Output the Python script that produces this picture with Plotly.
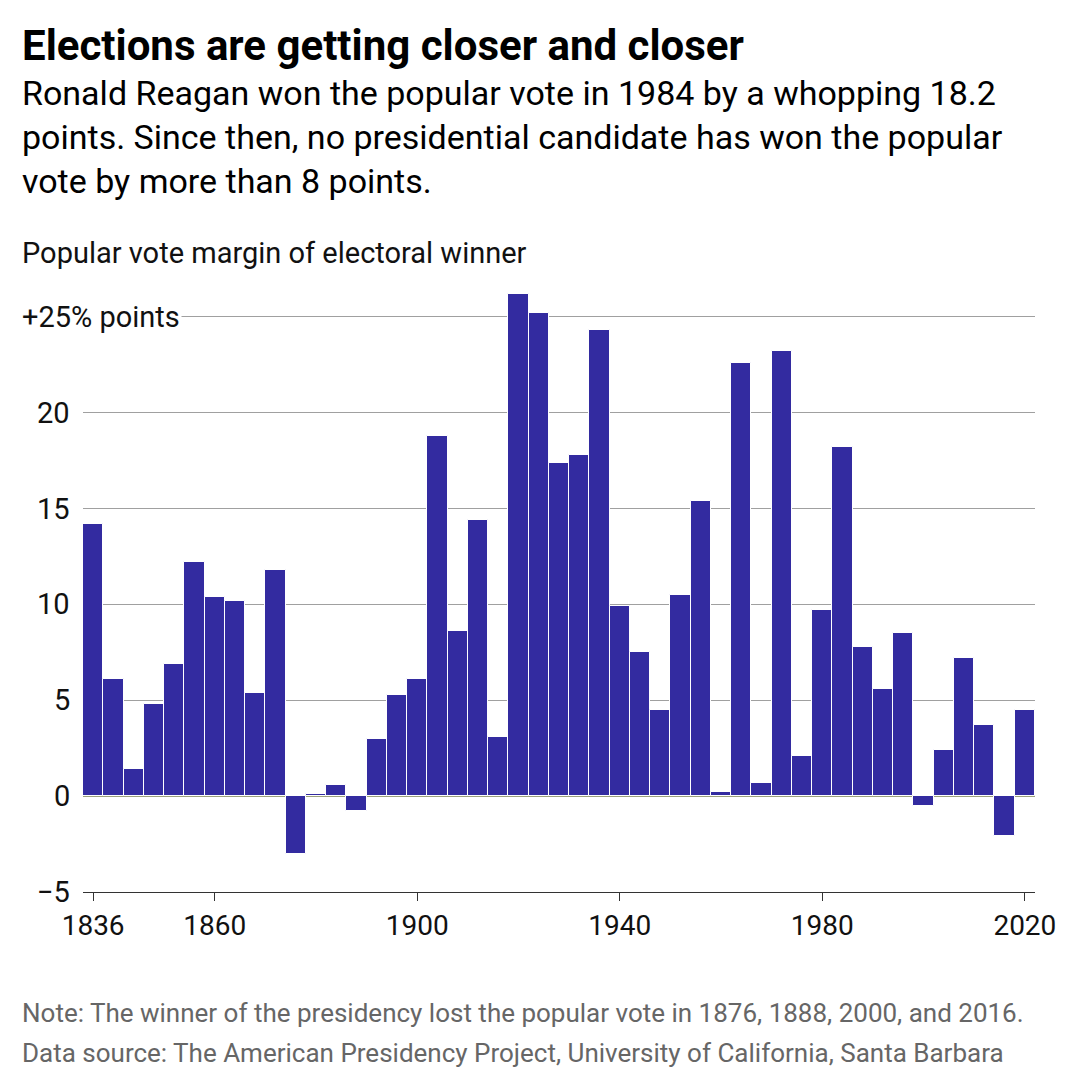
import plotly.graph_objects as go

years = list(range(1836, 2021, 4))
margins = [14.2, 6.1, 1.4, 4.8, 6.9, 12.2, 10.4, 10.2, 5.4, 11.8,
           -3.0, 0.1, 0.6, -0.8, 3.0, 5.3, 6.1, 18.8, 8.6, 14.4,
           3.1, 26.2, 25.2, 17.4, 17.8, 24.3, 9.9, 7.5, 4.5, 10.5,
           15.4, 0.2, 22.6, 0.7, 23.2, 2.1, 9.7, 18.2, 7.8, 5.6,
           8.5, -0.5, 2.4, 7.2, 3.7, -2.1, 4.5]
x_ticks = [1836, 1860, 1900, 1940, 1980, 2020]
y_ticks = [-5, 0, 5, 10, 15, 20, 25]
y_labels = ["−5", "0", "5", "10", "15", "20", "+25% points"]

L, R, T, B = 75, 53, 284, 204
W, H = 1080, 1088
pw, ph = W - L - R, H - T - B
OFF = 8

def px_x(x):
    return (x - OFF - L) / pw

def px_y(y):
    return (H - B - (y - OFF)) / ph

fig = go.Figure(go.Bar(x=years, y=margins, width=4, marker_color="#332ba0",
                       marker_line_color="white", marker_line_width=1))

for v, lab in zip(y_ticks, y_labels):
    if v == 25:
        fig.add_annotation(x=px_x(20), xref="paper", y=v, yref="y", text=lab,
                           xanchor="left", showarrow=False, bgcolor="white",
                           font=dict(size=29, color="#111"))
    else:
        fig.add_annotation(x=px_x(72), xref="paper", y=v, yref="y", text=lab,
                           xanchor="right", showarrow=False,
                           font=dict(size=29, color="#111"))

ann = [
    (45, "<b>Elections are getting closer and closer</b>", 42, "#000"),
    (137, "Ronald Reagan won the popular vote in 1984 by a whopping 18.2<br>points. Since then, no presidential candidate has won the popular<br>vote by more than 8 points.", 34, "#000"),
    (253, "Popular vote margin of electoral winner", 29, "#111"),
    (1013, "Note: The winner of the presidency lost the popular vote in 1876, 1888, 2000, and 2016.", 26, "#666"),
    (1053, "Data source: The American Presidency Project, University of California, Santa Barbara", 26, "#666"),
]
for ypx, txt, sz, col in ann:
    fig.add_annotation(x=px_x(20), xref="paper", y=px_y(ypx), yref="paper",
                       text=txt, showarrow=False, xanchor="left", yanchor="middle", align="left",
                       font=dict(size=sz, color=col))

fig.update_layout(
    width=W, height=H, paper_bgcolor="white", plot_bgcolor="white",
    font=dict(family="Roboto", color="#111"),
    margin=dict(l=L, r=R, t=T, b=B),
    bargap=0, showlegend=False,
    xaxis=dict(range=[1834, 2022], tickvals=x_ticks, ticks="outside", ticklen=8,
               tickcolor="#333", showline=True, linecolor="#333", showgrid=False,
               tickfont=dict(size=28), zeroline=False),
    yaxis=dict(range=[-5, 26.3], tickvals=y_ticks, showticklabels=False,
               gridcolor="#a0a0a0", gridwidth=1, zeroline=True,
               zerolinecolor="#9aa07a", zerolinewidth=1),
)

fig.write_html("out.html")
